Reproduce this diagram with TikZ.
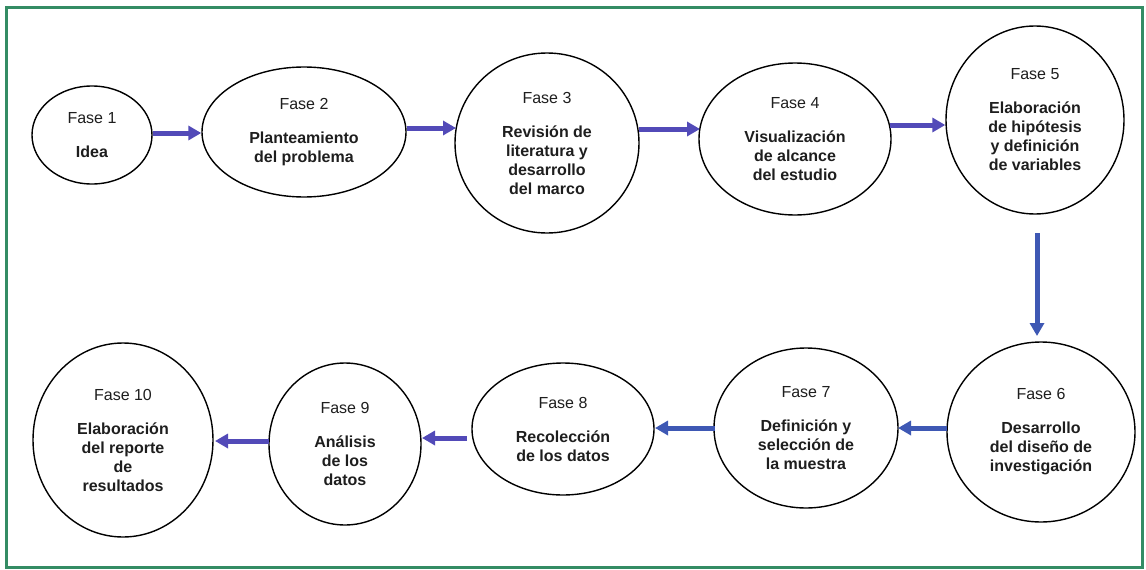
\documentclass[tikz,border=0pt]{standalone}
\usepackage{fontspec}
\setmainfont{Liberation Sans}
\usetikzlibrary{shapes.geometric,arrows.meta}
\definecolor{framec}{RGB}{52,140,100}
\definecolor{arrp}{RGB}{82,74,184}
\definecolor{arrb}{RGB}{62,88,180}
\definecolor{txt}{RGB}{30,30,30}
\tikzset{
  ph/.style={ellipse, draw=black, line width=1.4pt, inner sep=0pt, align=center,
    text=txt, font=\fontsize{16}{19}\selectfont},
  arr/.style={line width=5pt, -{Triangle[length=13pt,width=14pt]}},
}
\newcommand{\phs}[3]{#1\\[15pt]\textbf{#2}}
\begin{document}
\begin{tikzpicture}[x=1pt,y=-1pt]
\useasboundingbox (0,0) rectangle (1146,570);
\fill[white] (0,0) rectangle (1146,570);
\draw[framec, line width=3pt] (6,7) rectangle (1142,567);

\node[ph, minimum width=120pt, minimum height=98pt] (f1) at (92,135)
  {Fase 1\\[15pt]\textbf{Idea}};
\node[ph, minimum width=204pt, minimum height=130pt] (f2) at (304,132)
  {Fase 2\\[15pt]\textbf{Planteamiento}\\\textbf{del problema}};
\node[ph, minimum width=184pt, minimum height=180pt] (f3) at (547,143)
  {Fase 3\\[15pt]\textbf{Revisión de}\\\textbf{literatura y}\\\textbf{desarrollo}\\\textbf{del marco}};
\node[ph, minimum width=192pt, minimum height=152pt] (f4) at (795,139)
  {Fase 4\\[15pt]\textbf{Visualización}\\\textbf{de alcance}\\\textbf{del estudio}};
\node[ph, minimum width=178pt, minimum height=188pt] (f5) at (1035,120)
  {Fase 5\\[15pt]\textbf{Elaboración}\\\textbf{de hipótesis}\\\textbf{y definición}\\\textbf{de variables}};
\node[ph, minimum width=188pt, minimum height=180pt] (f6) at (1041,432)
  {Fase 6\\[15pt]\textbf{Desarrollo}\\\textbf{del diseño de}\\\textbf{investigación}};
\node[ph, minimum width=184pt, minimum height=160pt] (f7) at (806,428)
  {Fase 7\\[15pt]\textbf{Definición y}\\\textbf{selección de}\\\textbf{la muestra}};
\node[ph, minimum width=182pt, minimum height=132pt] (f8) at (563,429)
  {Fase 8\\[15pt]\textbf{Recolección}\\\textbf{de los datos}};
\node[ph, minimum width=152pt, minimum height=162pt] (f9) at (345,444)
  {Fase 9\\[15pt]\textbf{Análisis}\\\textbf{de los}\\\textbf{datos}};
\node[ph, minimum width=180pt, minimum height=194pt] (f10) at (123,440)
  {Fase 10\\[15pt]\textbf{Elaboración}\\\textbf{del reporte}\\\textbf{de}\\\textbf{resultados}};

\coordinate (a1s) at (152,133); \coordinate (a1e) at (202,133);
\coordinate (a2s) at (405,128); \coordinate (a2e) at (456,128);
\coordinate (a3s) at (639,129); \coordinate (a3e) at (700,129);
\coordinate (a4s) at (890,125); \coordinate (a4e) at (946,125);

\draw[arr, arrp] (f1.east |- a1s) -- (f2.west |- a1e);
\draw[arr, arrp] (f2.east |- a2s) -- (a2e);
\draw[arr, arrp] (a3s) -- (a3e);
\draw[arr, arrp] (a4s) -- (f5.west |- a4e);

\coordinate (d1) at (1037,233); \coordinate (d2) at (1037,336);
\draw[arr, arrb] (d1) -- (d2);

\coordinate (b6) at (947,428); \coordinate (b7) at (898,428);
\coordinate (b7s) at (715,428); \coordinate (b8) at (655,428);
\coordinate (b8s) at (467,438); \coordinate (b9) at (422,438);
\coordinate (b9s) at (269,441); \coordinate (b10) at (215,441);
\draw[arr, arrb] (b6) -- (b7);
\draw[arr, arrb] (b7s) -- (b8);
\draw[arr, arrp] (b8s) -- (b9);
\draw[arr, arrp] (b9s) -- (b10);
\end{tikzpicture}
\end{document}
